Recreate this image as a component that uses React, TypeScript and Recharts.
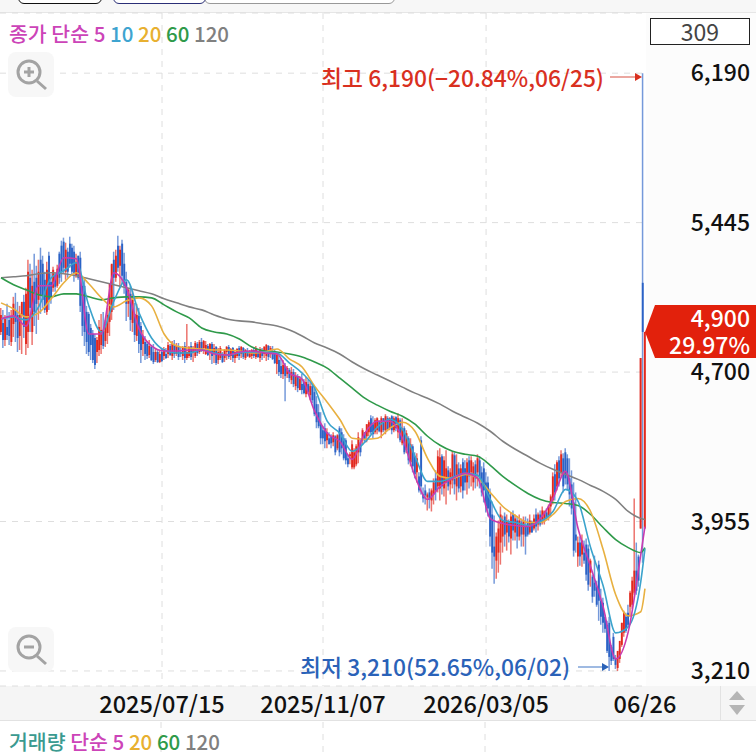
import React from 'react';
import { ComposedChart, Bar, Line, Cell, XAxis, YAxis, CartesianGrid } from 'recharts';

const KR = '"Noto Sans CJK KR", "Noto Sans", sans-serif';

// candles, ten to a row
const highs = [
  5020,5010,4985,5040,5000,5010,5075,5095,5050,5030,
  5040,5085,5120,5260,5240,5210,5290,5230,5260,5320,
  5280,5200,5250,5300,5190,5225,5195,5235,5300,5355,
  5370,5345,5320,5375,5340,5330,5290,5280,5300,5170,
  5165,5030,5000,4940,4910,4890,4875,4960,4990,5000,
  4960,5020,5060,5235,5300,5310,5380,5330,5360,5295,
  5200,5120,5130,5105,5045,5040,5020,4950,4910,4880,
  4855,4860,4830,4840,4820,4810,4810,4815,4825,4820,
  4850,4840,4855,4860,4845,4845,4825,4830,4850,4940,
  4830,4850,4830,4855,4850,4860,4870,4860,4855,4840,
  4845,4850,4840,4830,4820,4830,4800,4815,4830,4835,
  4820,4825,4810,4820,4830,4830,4825,4815,4820,4810,
  4815,4825,4830,4815,4825,4820,4830,4840,4835,4830,
  4830,4810,4800,4780,4770,4760,4745,4730,4720,4725,
  4715,4700,4690,4680,4690,4665,4675,4660,4650,4640,
  4620,4580,4540,4500,4430,4445,4420,4400,4390,4400,
  4385,4390,4430,4420,4390,4370,4290,4300,4360,4320,
  4340,4400,4370,4420,4400,4440,4460,4485,4480,4470,
  4475,4460,4480,4470,4490,4480,4475,4485,4480,4480,
  4495,4470,4470,4430,4410,4380,4370,4340,4300,4295,
  4200,4380,4125,4140,4100,4120,4120,4170,4210,4310,
  4320,4290,4280,4310,4230,4220,4305,4300,4290,4250,
  4240,4270,4260,4270,4280,4280,4250,4260,4290,4280,
  4230,4250,4200,4180,4120,4055,3985,3900,3960,4030,
  3985,4000,3990,3965,4000,4010,3990,3980,3990,3970,
  3980,3980,3970,3990,3960,3990,4020,4000,4010,4030,
  4010,4020,4040,4090,4200,4240,4260,4280,4310,4295,
  4320,4290,4270,4210,4150,4100,3880,3880,3890,3860,
  3870,3840,3770,3690,3785,3660,3760,3620,3575,3490,
  3460,3480,3340,3400,3290,3240,3320,3450,3510,3500,
  3540,3610,3680,4070,3850,3790,4770,6190,4900,
];
const lows = [
  4885,4820,4830,4860,4835,4830,4875,4850,4800,4810,
  4790,4870,4785,4820,4900,4835,4930,4890,4960,4990,
  5020,4995,4985,5010,5040,5100,5100,5120,5140,5150,
  5190,5160,5170,5220,5180,5150,5170,5160,5000,4880,
  4830,4790,4780,4760,4745,4715,4745,4780,4790,4815,
  4825,4840,4880,4960,5010,5150,5200,5120,5140,5090,
  4955,4975,4905,4900,4850,4855,4795,4745,4780,4760,
  4765,4770,4755,4740,4750,4745,4745,4750,4760,4765,
  4770,4780,4760,4770,4780,4760,4775,4760,4745,4760,
  4770,4760,4750,4770,4780,4790,4800,4790,4785,4780,
  4760,4740,4745,4735,4740,4760,4745,4750,4760,4765,
  4760,4750,4745,4770,4760,4770,4765,4760,4775,4770,
  4765,4770,4765,4770,4750,4760,4770,4755,4760,4770,
  4760,4740,4690,4680,4670,4665,4555,4670,4650,4640,
  4625,4610,4600,4620,4590,4590,4575,4590,4560,4545,
  4480,4420,4420,4340,4340,4320,4320,4340,4320,4330,
  4285,4310,4280,4290,4260,4240,4225,4240,4215,4215,
  4230,4245,4280,4340,4350,4350,4380,4390,4370,4390,
  4390,4400,4370,4400,4390,4405,4410,4390,4400,4405,
  4370,4350,4335,4290,4295,4240,4230,4200,4170,4150,
  4100,4090,4050,4040,4010,4020,4005,4040,4060,4100,
  4060,4090,4080,4040,4110,4090,4120,4090,4060,4100,
  4100,4070,4110,4090,4120,4130,4110,4120,4130,4120,
  4080,4050,4000,3980,3830,3720,3645,3670,3700,3740,
  3800,3830,3810,3850,3790,3860,3860,3820,3860,3830,
  3830,3790,3880,3890,3900,3910,3900,3910,3930,3940,
  3940,3960,3960,3980,4040,4060,4110,4130,4180,4100,
  4140,4110,4030,3990,3780,3800,3730,3735,3730,3745,
  3660,3610,3630,3550,3580,3530,3460,3440,3400,3400,
  3300,3210,3240,3260,3220,3210,3250,3330,3380,3400,
  3430,3480,3520,3590,3590,3630,3920,3750,3920,
];
const opens = [
  4900,4945,4860,4925,4960,4850,4940,5010,4985,4880,
  4985,5050,4840,4900,5170,4900,5150,5170,5060,5260,
  5240,5160,5000,5280,5150,5120,5185,5130,5290,5330,
  5350,5200,5300,5340,5320,5300,5180,5280,5270,5130,
  5130,5000,4990,4920,4890,4870,4800,4810,4835,4905,
  4855,4895,4950,5000,5260,5170,5330,5230,5340,5240,
  5150,5040,5090,4945,4990,4880,4980,4930,4840,4850,
  4840,4785,4825,4800,4760,4800,4750,4800,4780,4790,
  4790,4830,4780,4835,4790,4830,4800,4780,4830,4770,
  4780,4830,4800,4780,4840,4800,4850,4820,4790,4830,
  4800,4840,4790,4825,4760,4770,4790,4770,4800,4825,
  4780,4820,4770,4780,4820,4790,4820,4770,4800,4775,
  4780,4810,4775,4800,4770,4810,4790,4780,4830,4790,
  4800,4790,4740,4760,4730,4690,4730,4690,4710,4660,
  4700,4630,4680,4610,4640,4650,4590,4640,4585,4630,
  4600,4540,4500,4440,4410,4420,4360,4370,4380,4350,
  4380,4320,4420,4400,4370,4360,4270,4280,4225,4225,
  4240,4300,4350,4360,4400,4380,4400,4470,4440,4400,
  4410,4450,4400,4470,4410,4470,4420,4480,4410,4475,
  4400,4460,4345,4420,4310,4370,4250,4330,4280,4200,
  4180,4360,4090,4110,4075,4100,4060,4090,4170,4130,
  4120,4280,4120,4150,4210,4140,4160,4285,4130,4220,
  4130,4250,4220,4150,4260,4200,4150,4240,4200,4260,
  4200,4220,4150,4150,4090,3990,3830,3760,3800,3850,
  3880,3980,3900,3950,3870,3990,3900,3960,3880,3950,
  3890,3930,3950,3900,3950,3920,3990,3940,3990,3950,
  3960,4000,3980,4030,4060,4190,4130,4260,4200,4270,
  4300,4270,4170,4140,4050,3890,3780,3850,3790,3800,
  3840,3820,3700,3680,3650,3630,3740,3560,3550,3480,
  3440,3450,3330,3380,3275,3225,3270,3340,3400,3480,
  3500,3530,3540,3600,3710,3780,3920,5145,3920,
];
const closes = [
  4985,4860,4965,4885,4880,4970,5040,4950,4870,4985,
  5050,4925,5090,5200,5020,5130,5000,5040,5200,5080,
  5060,5010,5210,5060,5075,5210,5125,5215,5170,5200,
  5220,5310,5200,5240,5200,5190,5250,5170,5030,4930,
  4900,4850,4800,4835,4760,4735,4860,4925,4910,4830,
  4940,4985,5140,5240,5170,5280,5220,5310,5180,5130,
  5040,5110,4960,5060,4885,4985,4840,4810,4880,4790,
  4780,4830,4760,4750,4800,4750,4790,4755,4815,4770,
  4835,4785,4840,4790,4830,4775,4790,4825,4770,4800,
  4825,4775,4820,4845,4795,4850,4810,4855,4835,4785,
  4840,4780,4820,4745,4800,4820,4750,4810,4825,4775,
  4815,4770,4800,4815,4780,4825,4775,4810,4780,4800,
  4810,4780,4820,4775,4815,4780,4825,4835,4775,4820,
  4765,4745,4785,4700,4690,4735,4680,4720,4670,4700,
  4640,4680,4620,4665,4610,4595,4650,4600,4630,4560,
  4490,4450,4430,4370,4370,4355,4400,4340,4345,4385,
  4300,4385,4300,4320,4270,4260,4240,4290,4340,4300,
  4330,4375,4300,4410,4360,4440,4450,4400,4390,4460,
  4470,4405,4470,4410,4480,4415,4470,4410,4470,4420,
  4470,4360,4420,4300,4395,4260,4340,4230,4190,4270,
  4110,4130,4070,4085,4090,4065,4110,4150,4110,4280,
  4275,4130,4260,4220,4130,4200,4290,4140,4240,4120,
  4220,4110,4150,4250,4180,4260,4230,4170,4270,4170,
  4100,4110,4030,4020,3880,3800,3780,3880,3920,3990,
  3960,3890,3960,3880,3980,3910,3970,3880,3960,3890,
  3960,3880,3890,3960,3900,3970,3930,3990,3940,4010,
  4005,3970,4030,4080,4180,4100,4250,4170,4290,4130,
  4170,4140,4090,4020,3810,3860,3850,3780,3860,3760,
  3690,3640,3760,3580,3610,3540,3560,3480,3450,3420,
  3310,3280,3260,3270,3240,3310,3360,3450,3500,3410,
  3440,3600,3660,3710,3610,3660,4770,4900,4900,
];

const maIndex = [
  0,6,12,18,24,30,36,42,48,54,60,66,72,78,84,90,96,102,108,114,120,126,132,138,144,150,
  156,162,168,174,180,186,192,198,204,210,216,222,228,234,240,246,252,258,264,270,276,282,288,294,300,306,308,
];
const ma5 = [
  4965,4980,4930,5130,5130,5270,5265,4890,4890,5195,5120,4915,4830,4805,4805,4810,4810,4790,4785,4800,4805,4795,4790,4695,4665,4505,
  4395,4355,4265,4395,4455,4455,4370,4180,4065,4130,4170,4195,4170,3970,3945,3935,3930,3970,4070,4205,3920,3730,3530,3270,3405,3790,3930,
];
const ma10 = [
  4965,4975,4960,5025,5170,5205,5245,5030,4900,5055,5160,4995,4870,4810,4795,4795,4810,4795,4785,4795,4800,4800,4795,4745,4695,4620,
  4455,4395,4305,4350,4425,4465,4415,4280,4155,4155,4175,4195,4185,4065,3960,3950,3935,3955,4005,4115,4055,3825,3635,3400,3430,3655,3820,
];
const ma20 = [
  5045,5015,4975,4995,5065,5145,5195,5140,5070,5025,5055,5070,5030,4890,4830,4820,4815,4810,4810,4805,4795,4800,4815,4765,4725,4630,
  4550,4465,4370,4365,4370,4420,4450,4405,4270,4180,4170,4190,4170,4100,4030,3985,3950,3950,3990,4055,4070,4005,3815,3590,3485,3505,3620,
];
const ma60 = [
  5170,5135,5110,5085,5075,5090,5090,5075,5060,5070,5075,5075,5070,5035,5000,4970,4920,4900,4890,4865,4825,4805,4800,4790,4775,4750,
  4720,4670,4620,4570,4535,4505,4480,4440,4380,4335,4305,4290,4280,4235,4180,4135,4095,4065,4050,4045,4035,3990,3925,3865,3825,3800,3825,
];
const ma120 = [
  5170,5175,5180,5190,5195,5190,5180,5165,5150,5135,5120,5105,5090,5065,5045,5025,5010,4985,4965,4955,4950,4940,4930,4910,4880,4845,
  4820,4790,4750,4715,4685,4655,4625,4595,4570,4540,4505,4475,4445,4405,4355,4315,4280,4245,4215,4190,4165,4135,4105,4065,4005,3970,3965,
];

const priceTicks = [3210, 3955, 4700, 5445, 6190];
const dateTicks = [77, 154, 232, 308];
const dateLabels = ['2025/07/15', '2025/11/07', '2026/03/05', '06/26'];
const gridIndex = [77, 154, 232];

const UP = '#e2281e';
const DOWN = '#2b62c6';

const table = highs.map((h, i) => {
  const at = maIndex.indexOf(i);
  return {
    i,
    wick: [lows[i], h],
    body: [Math.min(opens[i], closes[i]), Math.max(opens[i], closes[i])],
    up: closes[i] >= opens[i],
    ma5: at < 0 ? null : ma5[at],
    ma10: at < 0 ? null : ma10[at],
    ma20: at < 0 ? null : ma20[at],
    ma60: at < 0 ? null : ma60[at],
    ma120: at < 0 ? null : ma120[at],
  };
});

const PriceTick = ({ y, payload }: any) => (
  <text x={750} y={y + 8} textAnchor="end" fontFamily={KR} fontSize={23} fontWeight={500} fill="#111">
    {payload.value.toLocaleString('en-US')}
  </text>
);

const DateTick = ({ x, payload }: any) => (
  <text x={x} y={713} textAnchor="middle" fontFamily={KR} fontSize={23.5} fontWeight={500} fill="#111">
    {dateLabels[dateTicks.indexOf(payload.value)]}
  </text>
);

const Magnifier = ({ top, plus }: { top: number; plus: boolean }) => (
  <div style={{ position: 'absolute', left: 8, top, width: 46, height: 45, background: '#f7f7f7', borderRadius: 8 }}>
    <svg width={46} height={45}>
      <circle cx={21} cy={20} r={11} fill="none" stroke="#a3a3a3" strokeWidth={3} />
      <line x1={29} y1={29} x2={38} y2={37} stroke="#a3a3a3" strokeWidth={3} />
      <line x1={16} y1={20} x2={26} y2={20} stroke="#a3a3a3" strokeWidth={3} />
      {plus && <line x1={21} y1={15} x2={21} y2={25} stroke="#a3a3a3" strokeWidth={3} />}
    </svg>
  </div>
);

const Legend = ({ top, items }: { top: number; items: [string, string][] }) => (
  <div style={{ position: 'absolute', left: 9, top, fontFamily: KR, fontSize: 20.5, fontWeight: 500, whiteSpace: 'pre', lineHeight: '26px' }}>
    {items.map(([t, c]) => (
      <span key={t} style={{ color: c }}>{t} </span>
    ))}
  </div>
);

const App = () => (
  <div style={{ position: 'absolute', left: 0, top: 0, width: 756, height: 756, overflow: 'hidden', background: '#fff' }}>
    {/* tab strip */}
    <div style={{ position: 'absolute', left: 0, top: 0, width: 756, height: 12, background: '#f7f7f7', borderBottom: '1px solid #e6e6e6' }} />
    <div style={{ position: 'absolute', left: 18, top: -10, width: 82, height: 12, border: '1.5px solid #111', borderRadius: 6, background: '#fff' }} />
    <div style={{ position: 'absolute', left: 204, top: -10, width: 189, height: 12, border: '1.5px solid #999', borderRadius: 6, background: '#fff' }} />
    <div style={{ position: 'absolute', left: 113, top: -10, width: 91, height: 12, border: '1.5px solid #2b2f77', borderRadius: 6, background: '#fff' }} />

    {/* axis bands */}
    <div style={{ position: 'absolute', left: 646, top: 13, width: 110, height: 673, background: '#fcfcfc' }} />
    <div style={{ position: 'absolute', left: 0, top: 686, width: 756, height: 35, background: '#f5f5f5', borderBottom: '1px solid #e2e2e2', boxSizing: 'border-box' }} />
    <div style={{ position: 'absolute', left: 720, top: 686, width: 1, height: 35, background: '#e2e2e2' }} />

    <div style={{ position: 'absolute', left: 0, top: 0 }}>
      <ComposedChart width={756} height={756} data={table} margin={{ top: 13, right: 0, bottom: 35, left: 0 }} barGap={0}>
        <CartesianGrid stroke="#dedede" strokeDasharray="6 6" verticalValues={gridIndex} xAxisId="main" yAxisId="price" />
        <XAxis
          xAxisId="main"
          dataKey="i"
          type="category"
          ticks={dateTicks}
          interval={0}
          tickLine={false}
          axisLine={false}
          height={35}
          tick={DateTick}
        />
        <XAxis xAxisId="body" dataKey="i" type="category" hide />
        <YAxis
          yAxisId="price"
          orientation="right"
          width={110}
          domain={[3135, 6490]}
          allowDataOverflow
          ticks={priceTicks}
          interval={0}
          tickLine={false}
          axisLine={false}
          tick={PriceTick}
        />
        <Bar xAxisId="main" yAxisId="price" dataKey="wick" barSize={1.5} isAnimationActive={false}>
          {table.map((d) => (
            <Cell key={d.i} fill={d.up ? UP : DOWN} fillOpacity={0.65} />
          ))}
        </Bar>
        <Bar xAxisId="body" yAxisId="price" dataKey="body" barSize={3} isAnimationActive={false}>
          {table.map((d) => (
            <Cell key={d.i} fill={d.up ? UP : DOWN} />
          ))}
        </Bar>
        <Line xAxisId="main" yAxisId="price" dataKey="ma120" type="monotone" connectNulls stroke="#808080" strokeWidth={1.6} dot={false} isAnimationActive={false} />
        <Line xAxisId="main" yAxisId="price" dataKey="ma60" type="monotone" connectNulls stroke="#2f9a4a" strokeWidth={1.6} dot={false} isAnimationActive={false} />
        <Line xAxisId="main" yAxisId="price" dataKey="ma20" type="monotone" connectNulls stroke="#e8b040" strokeWidth={1.6} dot={false} isAnimationActive={false} />
        <Line xAxisId="main" yAxisId="price" dataKey="ma10" type="monotone" connectNulls stroke="#3ba3cc" strokeWidth={1.6} dot={false} isAnimationActive={false} />
        <Line xAxisId="main" yAxisId="price" dataKey="ma5" type="monotone" connectNulls stroke="#c93bb0" strokeWidth={1.6} dot={false} isAnimationActive={false} />
      </ComposedChart>
    </div>

    {/* bits of the volume pane below */}
    <svg style={{ position: 'absolute', left: 0, top: 722 }} width={756} height={34}>
      {[161, 323, 485].map((x) => (
        <line key={x} x1={x} x2={x} y1={0} y2={34} stroke="#dedede" strokeDasharray="6 6" />
      ))}
    </svg>

    <Legend top={20} items={[['종가 단순 5', '#cc44b8'], ['10', '#3ea4d0'], ['20', '#e8b030'], ['60', '#2f9a4a'], ['120', '#808080']]} />
    <Legend top={728} items={[['거래량', '#3a9a90'], ['단순 5', '#cc44b8'], ['20', '#e8b030'], ['60', '#2f9a4a'], ['120', '#808080']]} />

    <Magnifier top={52} plus />
    <Magnifier top={627} plus={false} />

    {/* high and low callouts */}
    <div style={{ position: 'absolute', right: 152, top: 64, fontFamily: KR, fontSize: 22.8, fontWeight: 500, color: '#d9301f', whiteSpace: 'pre', lineHeight: '28px' }}>
      최고 6,190(−20.84%,06/25)
    </div>
    <div style={{ position: 'absolute', right: 186, top: 653, fontFamily: KR, fontSize: 22.8, fontWeight: 500, color: '#2a62b8', whiteSpace: 'pre', lineHeight: '28px' }}>
      최저 3,210(52.65%,06/02)
    </div>
    <svg style={{ position: 'absolute', left: 0, top: 0, pointerEvents: 'none' }} width={756} height={756}>
      <line x1={610} x2={636} y1={77} y2={77} stroke="#e58a80" strokeWidth={1.5} />
      <polygon points="642,77 635,73 635,81" fill="#d9301f" />
      <line x1={578} x2={603} y1={667} y2={667} stroke="#7fa3d8" strokeWidth={1.5} />
      <polygon points="609,667 602,663 602,671" fill="#2a62b8" />
      <polygon points="645,332 655,305 756,305 756,358 655,358" fill="#e2210c" />
      <polygon points="729,700 737,691 745,700" fill="#b5b5b5" />
      <polygon points="729,705 737,715 745,705" fill="#b5b5b5" />
    </svg>
    <div style={{ position: 'absolute', right: 6, top: 304, fontFamily: KR, fontSize: 23, fontWeight: 500, color: '#fff', textAlign: 'right', lineHeight: '27px' }}>
      4,900<br />29.97%
    </div>

    <div style={{ position: 'absolute', left: 650, top: 18, width: 100, height: 27, boxSizing: 'border-box', border: '1px solid #222', background: '#fff', fontFamily: KR, fontSize: 23, color: '#444', textAlign: 'center', lineHeight: '25px' }}>
      309
    </div>
  </div>
);

export default App;
